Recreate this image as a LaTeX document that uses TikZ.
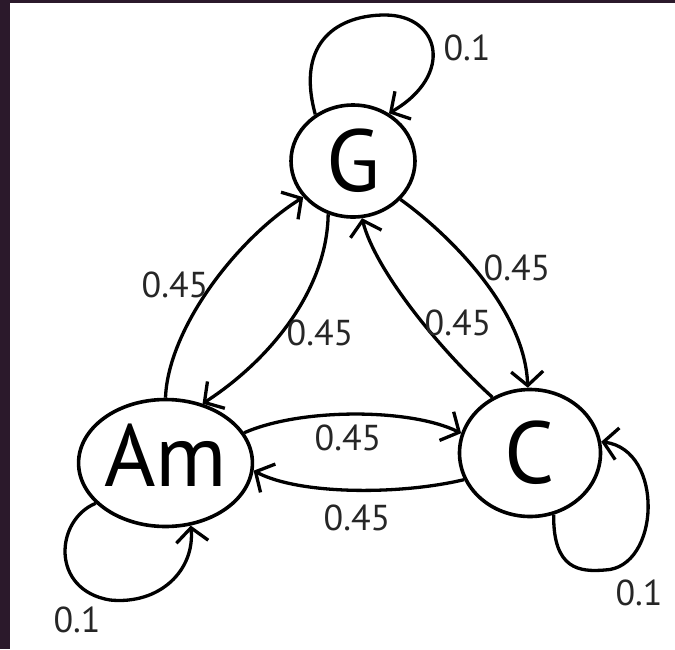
\documentclass[tikz,border=0pt]{standalone}
\usepackage{fontspec}
\setmainfont{PT Sans}
\usetikzlibrary{shapes.geometric,arrows.meta}
\definecolor{framebg}{RGB}{43,25,43}

\begin{document}
\begin{tikzpicture}
                [
                x=1pt, y=-1pt,
                chord/.style={ellipse, draw, line width=3.6pt, inner sep=0pt, font=\fontsize{88}{88}\selectfont},
                prob/.style={inner sep=0pt, text=black!85, font=\fontsize{36}{36}\selectfont},
                trans/.style={-{Straight Barb[length=14pt,width=32pt]}, line width=3.3pt}
                ]
                % Frame
                \useasboundingbox (0,0) rectangle (675,649);
                \fill[framebg] (0,0) rectangle (675,649);
                \fill[white] (10,3) rectangle (675,649);
                % Chord nodes
                \node[chord, minimum width=124pt, minimum height=112pt] (g) at (353,161) {G};
                \node[chord, minimum width=172pt, minimum height=127pt, text depth=16pt] (am) at (165.5,463) {Am};
                \node[chord, minimum width=141pt, minimum height=127pt] (c) at (530,453) {C};
                % Transitions between chords
                \draw[trans] (am.90) .. controls (168,330) and (235,240) .. (g.216);
                \draw[trans] (g.245) .. controls (327,290) and (270,360) .. (am.58);
                \draw[trans] (g.321) .. controls (450,235) and (525,310) .. (c.92);
                \draw[trans] (c.124) .. controls (440,350) and (375,270) .. (g.279);
                \draw[trans] (am.21) .. controls (300,408) and (410,408) .. (c.164);
                \draw[trans] (c.202) .. controls (400,495) and (300,495) .. (am.355);
                % Self loops
                \draw[trans] (g.129) .. controls (295,40) and (340,15) .. (385,15)
                    .. controls (440,15) and (455,75) .. (g.53);
                \draw[trans] (am.210) .. controls (55,520) and (50,590) .. (110,600)
                    .. controls (160,605) and (195,570) .. (am.292);
                \draw[trans] (c.291) .. controls (553,570) and (580,572) .. (605,570)
                    .. controls (660,568) and (665,450) .. (c.9);
                % Probabilities
                \node[prob] (pgg) at (467,48) {0.1};
                \node[prob] (pamam) at (77,620) {0.1};
                \node[prob] (pcc) at (639,593) {0.1};
                \node[prob] (pamg) at (175,285) {0.45};
                \node[prob] (pgam) at (320,333) {0.45};
                \node[prob] (pgc) at (517,268) {0.45};
                \node[prob] (pcg) at (458,323) {0.45};
                \node[prob] (pamc) at (348,438) {0.45};
                \node[prob] (pcam) at (357,518) {0.45};
            \end{tikzpicture}
\end{document}
